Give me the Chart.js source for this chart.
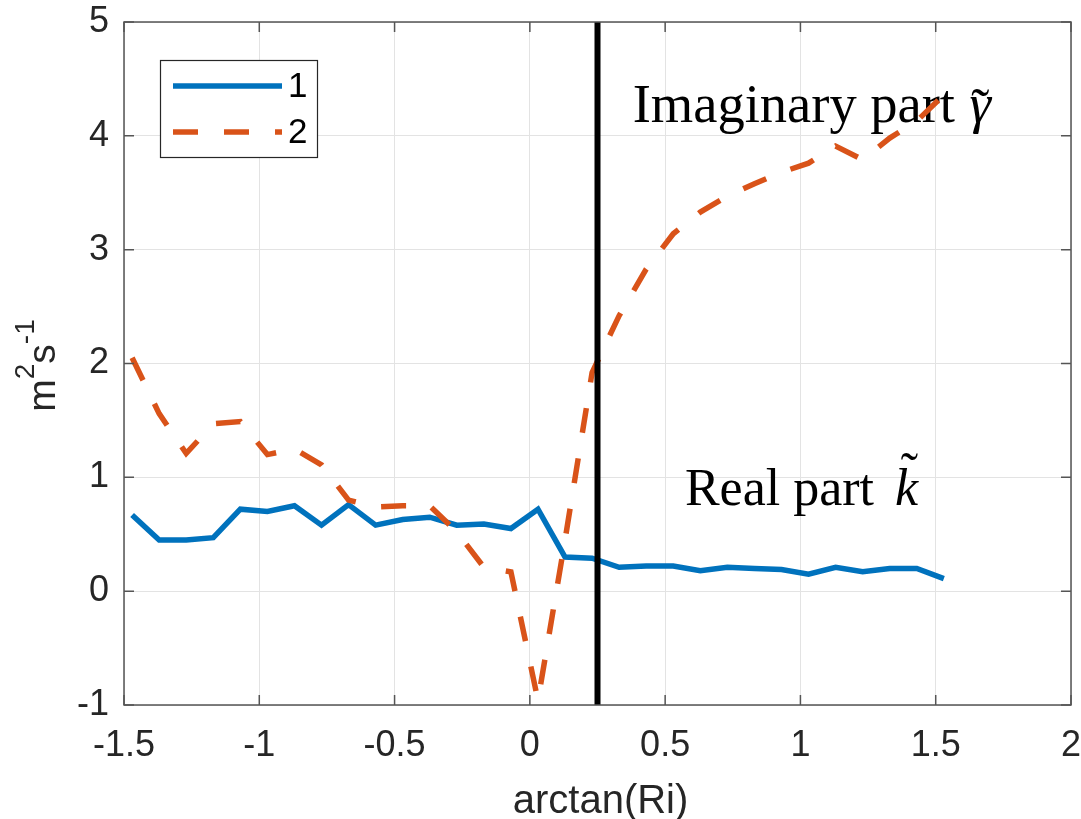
<!DOCTYPE html>
<html>
<head>
<meta charset="utf-8">
<script src="https://cdn.jsdelivr.net/npm/chart.js@4.4.1/dist/chart.umd.min.js"></script>
<style>
  html, body { margin: 0; padding: 0; background: #fff; }
  #wrap { width: 1081px; height: 819px; position: relative; }
</style>
</head>
<body>
<div id="wrap"><canvas id="kChart"></canvas></div>
<script>
// —————— DATA ——————
const xTicks = [-1.5, -1, -0.5, 0, 0.5, 1, 1.5, 2];
const yTicks = [-1, 0, 1, 2, 3, 4, 5];

const riAngle = [-1.47, -1.37, -1.27, -1.17, -1.07, -0.97, -0.87, -0.77, -0.67, -0.57, -0.47,
  -0.37, -0.27, -0.17, -0.07, 0.03, 0.13, 0.23, 0.33, 0.43, 0.53, 0.63, 0.73, 0.83, 0.93,
  1.03, 1.13, 1.23, 1.33, 1.43, 1.53];
const realPart = [0.67, 0.45, 0.45, 0.47, 0.72, 0.70, 0.75, 0.58, 0.76, 0.58, 0.63,
  0.65, 0.58, 0.59, 0.55, 0.72, 0.30, 0.29, 0.21, 0.22, 0.22, 0.18, 0.21, 0.20, 0.19,
  0.15, 0.21, 0.17, 0.20, 0.20, 0.11];
const imagPart = [2.05, 1.56, 1.21, 1.47, 1.49, 1.20, 1.25, 1.11, 0.80, 0.74, 0.75,
  0.75, 0.52, 0.21, 0.17, -0.96, 0.45, 1.92, 2.42, 2.83, 3.14, 3.33, 3.47, 3.58, 3.68,
  3.76, 3.91, 3.79, 3.98, 4.13, 4.36];

const splitAt = 0.25;            // vertical marker on the x axis
const legendNames = ['1', '2'];

// text notes placed in data units (left edge, baseline)
const noteText = ['Imaginary part', 'Real part'];
const noteSym = ['γ', 'k'];
const noteX = [0.38, 0.573];
const noteY = [4.12, 0.757];
const noteSize = [54.5, 52];

const BLUE = '#0072BD';
const ORANGE = '#D95319';
const INK = '#262626';
const DASH = [25, 26];

// —————— HELPERS ——————
function drawUnits(ctx, cx, cy) {
  const big = '39px "Liberation Sans"';
  const small = '28px "Liberation Sans"';
  const parts = [['m', big, 0], ['2', small, -21], ['s', big, 0], ['-1', small, -21]];
  ctx.save();
  ctx.translate(cx, cy);
  ctx.rotate(-Math.PI / 2);
  let total = 0;
  parts.forEach(p => { ctx.font = p[1]; total += ctx.measureText(p[0]).width; });
  let px = -total / 2;
  ctx.fillStyle = INK;
  ctx.textAlign = 'left';
  ctx.textBaseline = 'alphabetic';
  parts.forEach(p => {
    ctx.font = p[1];
    ctx.fillText(p[0], px, 11 + p[2]);
    px += ctx.measureText(p[0]).width;
  });
  ctx.restore();
}

function drawNotes(chart) {
  const { ctx, scales: { x, y } } = chart;
  ctx.save();
  ctx.fillStyle = '#000';
  ctx.textAlign = 'left';
  ctx.textBaseline = 'alphabetic';
  noteText.forEach((t, i) => {
    const px = x.getPixelForValue(noteX[i]);
    const py = y.getPixelForValue(noteY[i]);
    const size = noteSize[i];
    ctx.font = size + 'px "Liberation Serif"';
    ctx.fillText(t, px, py);
    const sx = px + ctx.measureText(t + ' ').width + (i === 0 ? 1 : 8);
    ctx.font = 'italic ' + size + 'px "Liberation Serif"';
    ctx.fillText(noteSym[i], sx, py);
    const w = ctx.measureText(noteSym[i]).width;
    // tilde accent over the symbol
    ctx.font = size + 'px "Liberation Serif"';
    ctx.textAlign = 'center';
    ctx.fillText('˜', sx + w * (i === 0 ? 0.5 : 0.62), py + (i === 0 ? 4 : -16));
    ctx.textAlign = 'left';
  });
  ctx.restore();
}

function drawLegend(ctx, a) {
  const bx = a.left + 36, by = a.top + 38, bw = 157, bh = 97;
  ctx.save();
  ctx.fillStyle = '#fff';
  ctx.fillRect(bx, by, bw, bh);
  ctx.strokeStyle = INK;
  ctx.lineWidth = 1.2;
  ctx.strokeRect(bx + 0.5, by + 0.5, bw, bh);
  const rows = [by + 26, by + 72];
  ctx.lineWidth = 5.5;
  ctx.lineCap = 'butt';
  ctx.strokeStyle = BLUE;
  ctx.beginPath(); ctx.moveTo(bx + 13, rows[0]); ctx.lineTo(bx + 122, rows[0]); ctx.stroke();
  ctx.strokeStyle = ORANGE;
  ctx.setLineDash(DASH);
  ctx.beginPath(); ctx.moveTo(bx + 13, rows[1]); ctx.lineTo(bx + 122, rows[1]); ctx.stroke();
  ctx.setLineDash([]);
  ctx.fillStyle = '#000';
  ctx.font = '35px "Liberation Sans"';
  ctx.textAlign = 'left';
  ctx.textBaseline = 'middle';
  legendNames.forEach((n, i) => ctx.fillText(n, bx + 128, rows[i] + 1));
  ctx.restore();
}

// —————— AXES FRAME PLUGIN ——————
const framePlugin = {
  id: 'frame',
  beforeDatasetsDraw(chart) {
    drawNotes(chart);
  },
  afterDatasetsDraw(chart) {
    const { ctx, chartArea: a, scales: { x, y } } = chart;
    ctx.save();
    ctx.strokeStyle = '#555';
    ctx.lineWidth = 1.5;
    ctx.strokeRect(a.left, a.top, a.right - a.left, a.bottom - a.top);
    ctx.beginPath();
    xTicks.forEach(v => {
      const px = x.getPixelForValue(v);
      ctx.moveTo(px, a.bottom); ctx.lineTo(px, a.bottom - 10);
      ctx.moveTo(px, a.top); ctx.lineTo(px, a.top + 10);
    });
    yTicks.forEach(v => {
      const py = y.getPixelForValue(v);
      ctx.moveTo(a.left, py); ctx.lineTo(a.left + 10, py);
      ctx.moveTo(a.right, py); ctx.lineTo(a.right - 10, py);
    });
    ctx.stroke();
    ctx.restore();

    drawLegend(ctx, a);

    // axis titles
    ctx.save();
    ctx.fillStyle = INK;
    ctx.font = '40px "Liberation Sans"';
    ctx.textAlign = 'center';
    ctx.textBaseline = 'middle';
    ctx.fillText('arctan(Ri)', (a.left + a.right) / 2 + 3, 802);
    ctx.restore();
    drawUnits(ctx, 44, (a.top + a.bottom) / 2 + 2);
  }
};

// —————— CHART ——————
const toPoints = vals => riAngle.map((r, i) => ({ x: r, y: vals[i] }));

new Chart(document.getElementById('kChart'), {
  type: 'line',
  data: {
    datasets: [
      {
        label: 'split',
        data: [{ x: splitAt, y: yTicks[0] }, { x: splitAt, y: yTicks[yTicks.length - 1] }],
        borderColor: '#000',
        borderWidth: 6,
        pointRadius: 0,
        order: 0
      },
      {
        label: legendNames[1],
        data: toPoints(imagPart),
        borderColor: ORANGE,
        borderWidth: 5.5,
        borderDash: DASH,
        borderCapStyle: 'butt',
        pointRadius: 0,
        tension: 0,
        order: 1
      },
      {
        label: legendNames[0],
        data: toPoints(realPart),
        borderColor: BLUE,
        borderWidth: 5.5,
        pointRadius: 0,
        tension: 0,
        order: 2
      }
    ]
  },
  options: {
    responsive: true,
    maintainAspectRatio: false,
    animation: false,
    layout: { padding: { left: 0, top: 22, right: 10, bottom: 0 } },
    plugins: { legend: { display: false }, tooltip: { enabled: false } },
    scales: {
      x: {
        type: 'linear',
        min: xTicks[0],
        max: xTicks[xTicks.length - 1],
        afterBuildTicks: s => { s.ticks = xTicks.map(v => ({ value: v })); },
        afterFit: s => { s.height = 114; s.paddingLeft = 0; s.paddingRight = 0; },
        grid: { color: '#e3e3e3', lineWidth: 1, drawTicks: false },
        border: { display: false },
        ticks: {
          color: INK,
          padding: 19,
          maxRotation: 0,
          font: { family: 'Liberation Sans', size: 36 },
          callback: v => String(v)
        }
      },
      y: {
        type: 'linear',
        min: yTicks[0],
        max: yTicks[yTicks.length - 1],
        afterBuildTicks: s => { s.ticks = yTicks.map(v => ({ value: v })); },
        afterFit: s => { s.width = 124; s.paddingTop = 0; s.paddingBottom = 0; },
        grid: { color: '#e3e3e3', lineWidth: 1, drawTicks: false },
        border: { display: false },
        ticks: {
          color: INK,
          padding: 15,
          font: { family: 'Liberation Sans', size: 36 },
          callback: v => String(v)
        }
      }
    }
  },
  plugins: [framePlugin]
});
</script>
</body>
</html>
